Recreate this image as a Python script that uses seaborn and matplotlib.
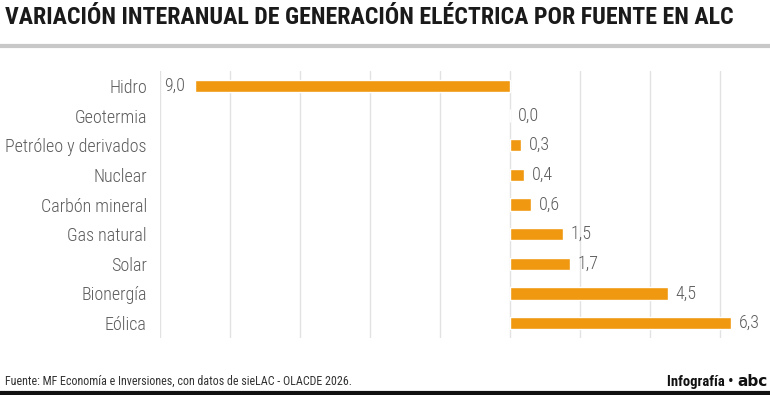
import matplotlib.pyplot as plt
import seaborn as sns
import pandas as pd
from matplotlib import font_manager

# data (Hidro is a decrease)
fuentes = ['Hidro', 'Geotermia', 'Petróleo y derivados', 'Nuclear', 'Carbón mineral',
           'Gas natural', 'Solar', 'Bionergía', 'Eólica']
variacion = [-9.0, 0.0, 0.3, 0.4, 0.6, 1.5, 1.7, 4.5, 6.3]
ticks = [-10, -8, -6, -4, -2, 0, 2, 4, 6]

df = pd.DataFrame({'fuente': fuentes, 'valor': variacion})

names = {f.name for f in font_manager.fontManager.ttflist}


def pick(cands, default='DejaVu Sans'):
    for c in cands:
        if c in names:
            return c
    return default


cond = pick(['Roboto Condensed', 'Barlow Condensed', 'Archivo Narrow', 'Asap Condensed'])

sns.set_style('white')
plt.rcParams['font.family'] = [cond, 'DejaVu Sans']

bar_color = '#F0980F'
text_color = '#5c5c5c'

fig = plt.figure(figsize=(7.7, 3.95), dpi=100)
ax = fig.add_axes([160 / 770, 1 - 338 / 395, 595 / 770, 267 / 395])

sns.barplot(data=df, x='valor', y='fuente', orient='h', color=bar_color,
            width=0.42, saturation=1, ax=ax, zorder=3)

ax.set_xlim(-10, 7)
ax.set_ylim(8.5, -0.5)
ax.set_xticks(ticks)
ax.xaxis.grid(True, color='#e2e2e2', linewidth=1, zorder=0)
ax.yaxis.grid(False)
ax.tick_params(axis='x', length=0, labelbottom=False)
ax.tick_params(axis='y', length=0, labelsize=13, labelcolor=text_color, pad=9.5)
for t in ax.get_yticklabels():
    t.set_fontweight(300)
ax.set_xlabel('')
ax.set_ylabel('')
for s in ax.spines.values():
    s.set_visible(False)

# value labels, Spanish decimal comma, no sign
for i, v in enumerate(variacion):
    lab = f'{abs(v):.1f}'.replace('.', ',')
    if v < 0:
        ax.annotate(lab, (v, i), xytext=(-7, 0), textcoords='offset points',
                    ha='right', va='center', fontsize=13, fontweight=300,
                    color=text_color, annotation_clip=False)
    else:
        ax.annotate(lab, (v, i), xytext=(6, 0), textcoords='offset points',
                    ha='left', va='center', fontsize=13, fontweight=300,
                    color=text_color, annotation_clip=False)

# title and rules
title = fig.text(5 / 770, 1 - 18 / 395,
                 'VARIACIÓN INTERANUAL DE GENERACIÓN ELÉCTRICA POR FUENTE EN ALC',
                 ha='left', va='center', fontsize=20, fontweight='bold', color='#1a1a1a')
fig.add_artist(plt.Line2D([0, 1], [1 - 46 / 395, 1 - 46 / 395], color='#c8c8c8', linewidth=3))
fig.add_artist(plt.Line2D([0, 1], [1 - 393 / 395, 1 - 393 / 395], color='#111111', linewidth=3))

# footer
fuente = fig.text(5 / 770, 1 - 381 / 395,
                  'Fuente: MF Economía e Inversiones, con datos de sieLAC - OLACDE 2026.',
                  ha='left', va='center', fontsize=10, color='#333333')
fig.text(733 / 770, 1 - 382 / 395, 'Infografía •', ha='right', va='center',
         fontsize=10.5, fontweight='bold', color='#111111')
fig.text(737 / 770, 1 - 382 / 395, 'abc', ha='left', va='center',
         fontsize=11, fontweight='heavy', color='#111111', family='DejaVu Sans')

# fit title and source line to the widths seen in the reference
r = fig.canvas.get_renderer()
for t, w in [(title, 730), (fuente, 347)]:
    bb = t.get_window_extent(r)
    t.set_fontsize(t.get_fontsize() * w / bb.width)

fig.savefig('out.png', dpi=100)
